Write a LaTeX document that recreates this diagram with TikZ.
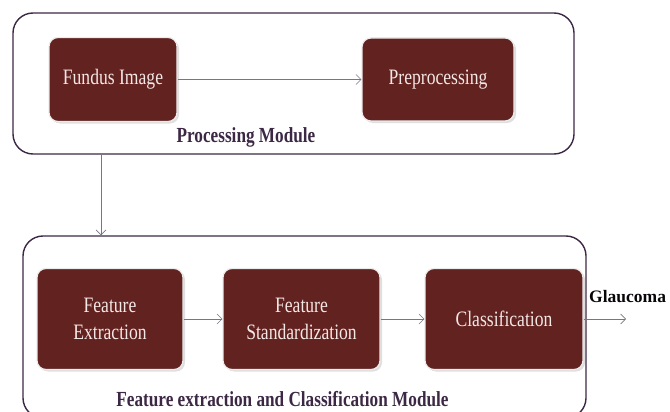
\documentclass[tikz,border=0pt]{standalone}
\usepackage{fontspec}
\setmainfont{Liberation Serif}[FakeStretch=0.8]
\newfontfamily\labelfont{Liberation Serif}
\usetikzlibrary{shadows, arrows.meta}
\definecolor{maroon}{RGB}{98,34,32}
\definecolor{frame}{RGB}{60,40,68}
\definecolor{boxtext}{RGB}{244,232,230}
\definecolor{arrowgray}{RGB}{120,118,132}

\begin{document}
\begin{tikzpicture}[
    x=1pt, y=-1pt,
    group/.style={rectangle, draw=frame, line width=1.4pt, rounded corners=20pt},
    block/.style={rectangle, draw=white!85!gray, line width=1.2pt, fill=maroon, text=boxtext, rounded corners=9pt, align=center, font=\fontsize{22}{27}\selectfont, drop shadow={shadow xshift=2pt, shadow yshift=-2pt, opacity=0.25}},
    caption/.style={text=frame, font=\fontsize{21.5}{26}\selectfont\bfseries},
    flow/.style={-{Straight Barb[length=5pt, width=10pt]}, draw=arrowgray, line width=0.6pt}
]
\useasboundingbox (0,0) rectangle (670,412);

% Modules
\node[group, minimum width=561pt, minimum height=141pt] (procmod) at (293.5,83.5) {};
\node[group, minimum width=563pt, minimum height=182pt] (featmod) at (304.5,327) {};

% Processing blocks
\node[block, minimum width=128pt, minimum height=84pt] (fundus) at (113,79.5) {Fundus Image};
\node[block, minimum width=152pt, minimum height=83pt] (prep) at (438,79.5) {Preprocessing};
\node[caption] (proclabel) at (246,137) {Processing Module};

% Feature blocks
\node[block, minimum width=146pt, minimum height=101pt] (featext) at (110,319) {Feature\\Extraction};
\node[block, minimum width=157pt, minimum height=101pt] (featstd) at (301.5,319) {Feature\\Standardization};
\node[block, minimum width=158pt, minimum height=101pt] (classif) at (504,319) {Classification};
\node[caption] (featlabel) at (282.5,399) {Feature extraction and Classification Module};

% Output
\coordinate (out) at (626,319);
\coordinate (drop) at (101,0);
\node[text=black!85!frame, font=\labelfont\fontsize{17.5}{20}\selectfont\bfseries, anchor=west, inner sep=0pt] (glaucoma) at (589,297) {Glaucoma};

% Flows
\draw[flow] (fundus) -- (prep);
\draw[flow] (drop |- procmod.south) -- (drop |- featmod.north);
\draw[flow] (featext) -- (featstd);
\draw[flow] (featstd) -- (classif);
\draw[flow] (classif) -- (out);

\end{tikzpicture}
\end{document}
